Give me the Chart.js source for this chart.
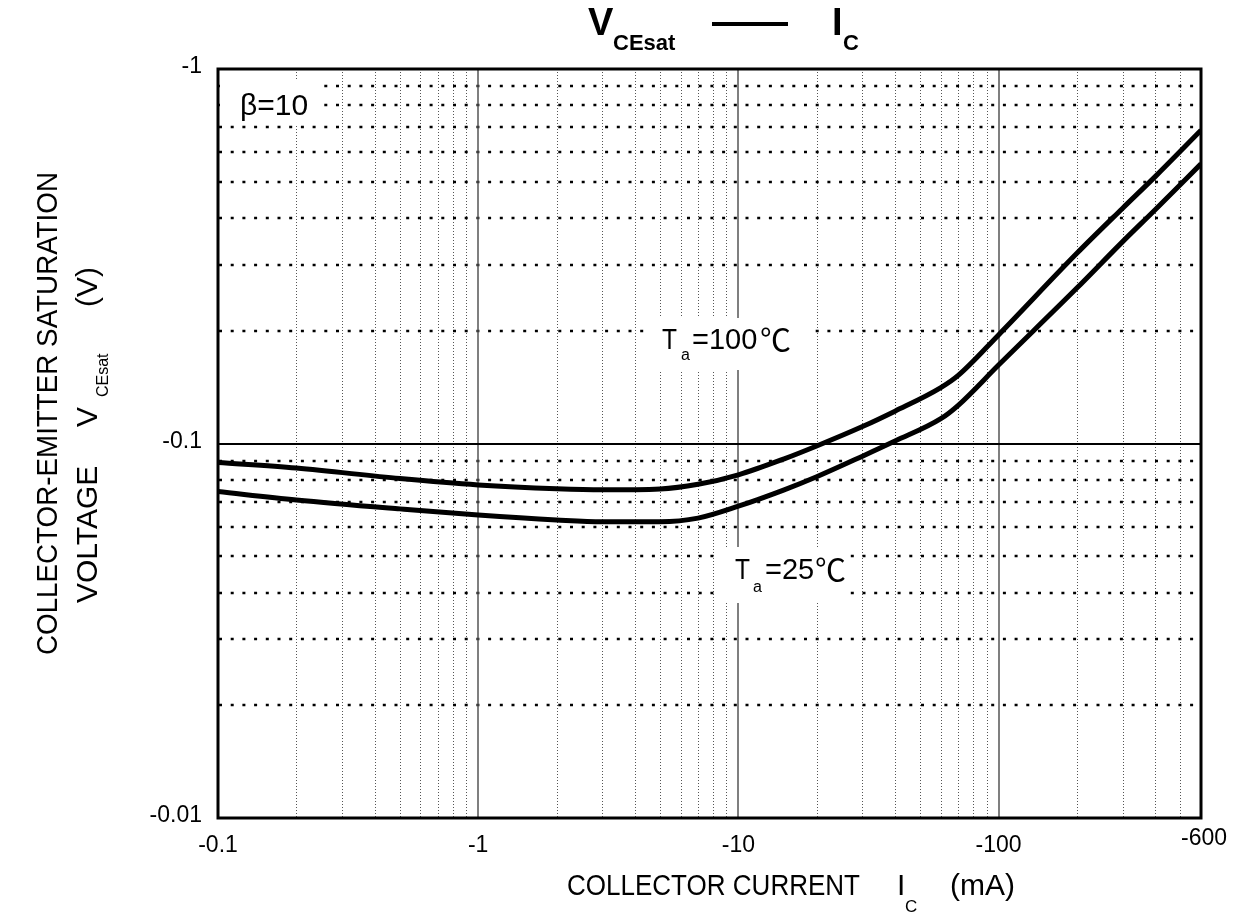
<!DOCTYPE html>
<html>
<head>
<meta charset="utf-8">
<title>VCEsat - IC</title>
<script src="https://cdn.jsdelivr.net/npm/chart.js@4.4.1/dist/chart.umd.min.js"></script>
<style>
  html, body { margin: 0; padding: 0; background: #fff; }
  #wrap { width: 1249px; height: 917px; }
</style>
</head>
<body>
<div id="wrap"><canvas id="vce-chart" width="1249" height="917"></canvas></div>
<script>
// collector current IC (mA, magnitude) and VCEsat (V, magnitude), beta = 10
const currentMA = [0.1, 0.2, 0.5, 1, 2, 3, 5, 7, 10, 15, 20, 30, 40, 60, 70, 100, 200, 300, 400, 600];
const vceTa100 = [0.089, 0.086, 0.0806, 0.0775, 0.0757, 0.0752, 0.0756, 0.0778, 0.0825, 0.091, 0.0985, 0.111, 0.122, 0.141, 0.152, 0.195, 0.322, 0.425, 0.516, 0.686];
const vceTa25 = [0.0744, 0.0707, 0.0669, 0.0644, 0.0625, 0.0618, 0.0618, 0.0632, 0.068, 0.0752, 0.0815, 0.0925, 0.1015, 0.1165, 0.1265, 0.162, 0.26, 0.346, 0.421, 0.558];

// axis ticks
const xTicks = [0.1, 1, 10, 100, 600];
const xTickLabels = ['-0.1', '-1', '-10', '-100', '-600'];
const yTicks = [0.01, 0.1, 1];
const yTickLabels = ['-0.01', '-0.1', '-1'];

// grid lines
const xMajor = [1, 10, 100];
const xMinor = [0.2, 0.3, 0.4, 0.5, 0.6, 0.7, 0.8, 0.9,
                2, 3, 4, 5, 6, 7, 8, 9,
                20, 30, 40, 50, 60, 70, 80, 90,
                200, 300, 400, 500];
const yMajor = [0.1];
const yMinor = [0.02, 0.03, 0.04, 0.05, 0.06, 0.07, 0.08, 0.09,
                0.2, 0.3, 0.4, 0.5, 0.6, 0.7, 0.8, 0.9];

const FONT = "'Liberation Sans', Arial, 'Noto Sans CJK SC', sans-serif";
const CJK = "'Noto Sans CJK SC', 'Noto Sans CJK JP', sans-serif";

function txt(ctx, s, x, y, size, opts) {
  opts = opts || {};
  ctx.font = (opts.bold ? 'bold ' : '') + size + 'px ' + (opts.family || FONT);
  ctx.textAlign = opts.align || 'left';
  ctx.textBaseline = opts.base || 'alphabetic';
  ctx.fillStyle = '#000';
  if (opts.maxWidth) ctx.fillText(s, x, y, opts.maxWidth);
  else ctx.fillText(s, x, y);
}

// grid, white label patches, frame and all texts
const sheet = {
  id: 'sheet',
  beforeDatasetsDraw(chart) {
    const { ctx, chartArea: a, scales: { x, y } } = chart;
    ctx.save();

    // vertical minor: fine grey dots
    ctx.strokeStyle = '#555';
    ctx.lineWidth = 1;
    ctx.setLineDash([1, 2]);
    xMinor.forEach(v => {
      const px = Math.round(x.getPixelForValue(v)) + 0.5;
      ctx.beginPath(); ctx.moveTo(px, a.top); ctx.lineTo(px, a.bottom); ctx.stroke();
    });

    // horizontal minor: coarse black dots
    ctx.strokeStyle = '#000';
    ctx.lineWidth = 2.6;
    ctx.setLineDash([3, 8.7]);
    yMinor.forEach(v => {
      const py = Math.round(y.getPixelForValue(v));
      ctx.beginPath(); ctx.moveTo(a.left + 1, py); ctx.lineTo(a.right, py); ctx.stroke();
    });
    ctx.setLineDash([]);

    // majors
    ctx.strokeStyle = '#555';
    ctx.lineWidth = 1.5;
    xMajor.forEach(v => {
      const px = Math.round(x.getPixelForValue(v));
      ctx.beginPath(); ctx.moveTo(px, a.top); ctx.lineTo(px, a.bottom); ctx.stroke();
    });
    ctx.strokeStyle = '#000';
    ctx.lineWidth = 2.2;
    yMajor.forEach(v => {
      const py = Math.round(y.getPixelForValue(v));
      ctx.beginPath(); ctx.moveTo(a.left, py); ctx.lineTo(a.right, py); ctx.stroke();
    });

    // white patches behind the in-plot labels
    ctx.fillStyle = '#fff';
    ctx.fillRect(a.left + 2, 79, 102, 45);
    ctx.fillRect(650, 318, 157, 52);
    ctx.fillRect(718, 547, 132, 56);
    ctx.restore();
  },
  afterDraw(chart) {
    const { ctx, chartArea: a, scales: { x, y } } = chart;
    ctx.save();

    // frame
    ctx.strokeStyle = '#000';
    ctx.lineWidth = 3;
    ctx.strokeRect(a.left, a.top, a.right - a.left, a.bottom - a.top);

    // tick labels
    xTicks.forEach((v, i) => {
      const px = x.getPixelForValue(v);
      const last = i === xTicks.length - 1;
      txt(ctx, xTickLabels[i], px + (last ? 3 : 0), last ? 845 : 852, 23, { align: 'center' });
    });
    yTicks.forEach((v, i) => {
      const py = y.getPixelForValue(v);
      txt(ctx, yTickLabels[i], 202, py - 2, 23, { align: 'right', base: 'middle' });
    });

    // title  VCEsat —— IC
    txt(ctx, 'V', 588, 35, 38, { bold: true });
    txt(ctx, 'CEsat', 613, 50, 22, { bold: true });
    ctx.fillStyle = '#000';
    ctx.fillRect(712, 22, 76, 4);
    txt(ctx, 'I', 832, 35, 38, { bold: true });
    txt(ctx, 'C', 843, 50, 22, { bold: true });

    // x axis title
    txt(ctx, 'COLLECTOR CURRENT', 567, 895, 30, { maxWidth: 293 });
    txt(ctx, 'I', 897, 895, 30);
    txt(ctx, 'C', 905, 912, 17);
    txt(ctx, '(mA)', 950, 895, 30, { maxWidth: 70 });

    // y axis title, rotated
    ctx.save();
    ctx.translate(57, 0);
    ctx.rotate(-Math.PI / 2);
    txt(ctx, 'COLLECTOR-EMITTER SATURATION', -655, 0, 30, { maxWidth: 483 });
    ctx.restore();
    ctx.save();
    ctx.translate(97, 0);
    ctx.rotate(-Math.PI / 2);
    txt(ctx, 'VOLTAGE', -603, 0, 30, { maxWidth: 145 });
    txt(ctx, 'V', -427, 0, 30);
    txt(ctx, 'CEsat', -397, 11, 16);
    txt(ctx, '(V)', -307, 0, 30, { maxWidth: 45 });
    ctx.restore();

    // in-plot labels
    txt(ctx, 'β=10', 240, 115, 30);
    txt(ctx, 'T', 662, 349, 29, { maxWidth: 15 });
    txt(ctx, 'a', 681, 360, 16);
    txt(ctx, '=100', 692, 349, 29, { maxWidth: 66 });
    txt(ctx, '℃', 760, 351, 31, { family: CJK });
    txt(ctx, 'T', 735, 579, 29, { maxWidth: 15 });
    txt(ctx, 'a', 753, 592, 16);
    txt(ctx, '=25', 765, 579, 29, { maxWidth: 50 });
    txt(ctx, '℃', 815, 581, 31, { family: CJK });

    ctx.restore();
  }
};

const toPoints = (xs, ys) => xs.map((v, i) => ({ x: v, y: ys[i] }));

new Chart(document.getElementById('vce-chart'), {
  type: 'line',
  data: {
    datasets: [
      { label: 'Ta=100℃', data: toPoints(currentMA, vceTa100) },
      { label: 'Ta=25℃', data: toPoints(currentMA, vceTa25) }
    ]
  },
  options: {
    responsive: false,
    animation: false,
    layout: { padding: { left: 218, top: 69, right: 48, bottom: 99 } },
    elements: {
      line: { borderColor: '#000', borderWidth: 5, cubicInterpolationMode: 'monotone', fill: false },
      point: { radius: 0, hoverRadius: 0 }
    },
    scales: {
      x: { type: 'logarithmic', min: 0.1, max: 600, display: false },
      y: { type: 'logarithmic', min: 0.01, max: 1, display: false }
    },
    plugins: {
      legend: { display: false },
      tooltip: { enabled: false }
    }
  },
  plugins: [sheet]
});
</script>
</body>
</html>
